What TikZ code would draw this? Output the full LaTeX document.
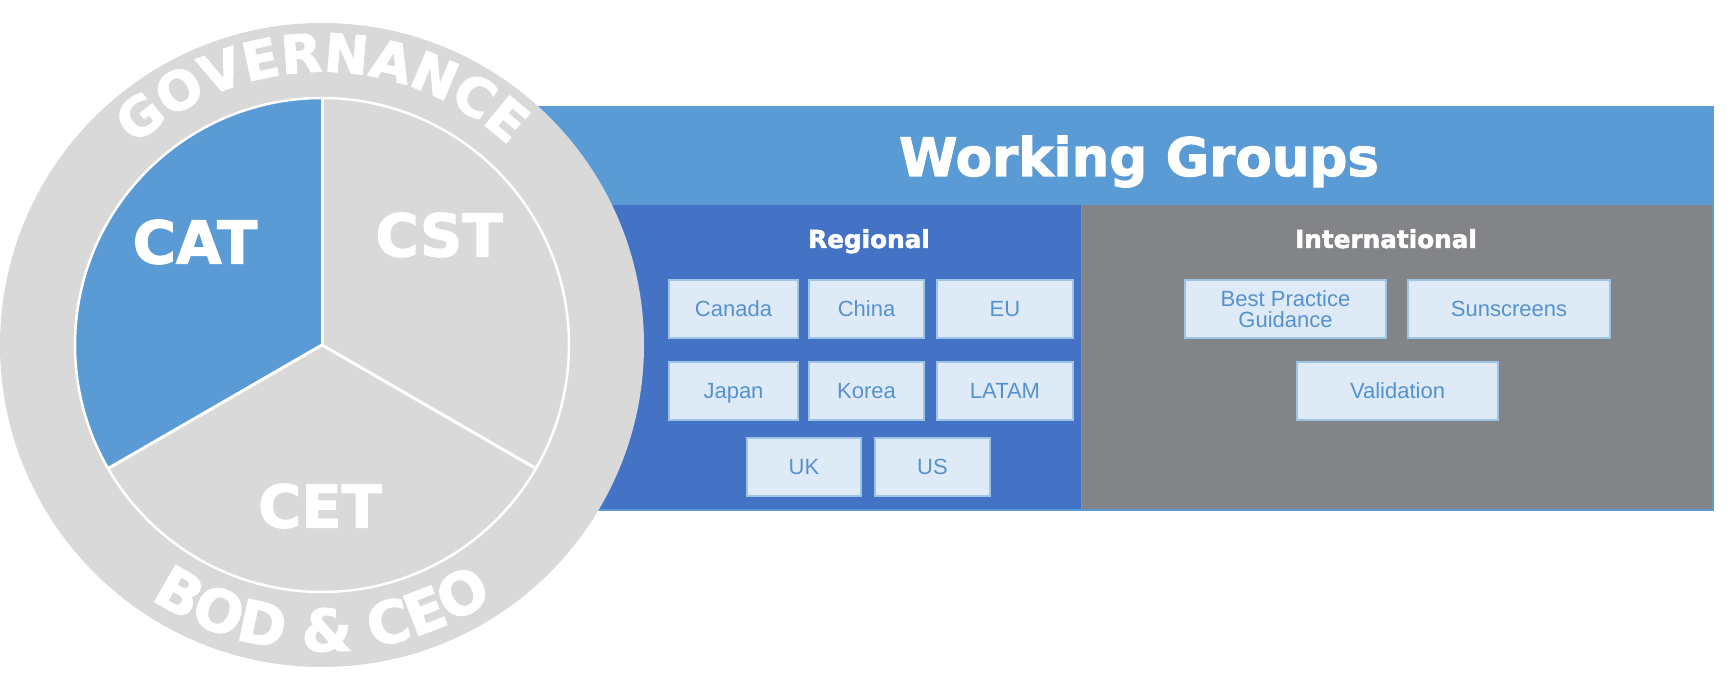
\documentclass[tikz,border=0pt]{standalone}
\usepackage{fontspec}
\setmainfont{Liberation Sans}
\newfontfamily\heavy{DejaVu Sans}[BoldFeatures={FakeBold=2}]
\usetikzlibrary{decorations.text}
\definecolor{ring}{HTML}{D9D9D9}
\definecolor{hdr}{HTML}{5B9BD5}
\definecolor{reg}{HTML}{4472C4}
\definecolor{intl}{HTML}{838487}
\definecolor{boxfill}{HTML}{DEEBF7}
\definecolor{boxline}{HTML}{9DC3E6}
\definecolor{boxtext}{HTML}{5691CF}
\begin{document}
\begin{tikzpicture}[x=1pt,y=1pt,
  wgbase/.style={draw=boxline, line width=1.2pt, fill=boxfill, text=boxtext,
    font=\fontsize{22}{21}\selectfont, align=center, inner sep=0pt,
    minimum height=58pt},
  wgbox/.style={wgbase, text height=15.8pt, text depth=0pt},
  titletext/.style={text=white, inner sep=0pt, anchor=base},
  pietext/.style={text=white, inner sep=0pt, font=\heavy\bfseries\fontsize{59}{59}\selectfont},
  ringtext/.style={decorate, decoration={text along path, text align=center, text color=white}}
]
\useasboundingbox (0,0) rectangle (1731,685);

% header and panels
\fill[hdr] (400,481) rectangle (1714,579);
\filldraw[fill=reg, draw=hdr, line width=1.5pt] (400,175) rectangle (1081.5,481);
\filldraw[fill=intl, draw=hdr, line width=1.5pt] (1081.5,175) rectangle (1713,481);

\node[titletext, font=\heavy\bfseries\fontsize{53}{53}\selectfont] (wgtitle) at (1139,509) {Working Groups};
\node[titletext, font=\heavy\bfseries\fontsize{24.7}{25}\selectfont] (regtitle) at (869,437) {Regional};
\node[titletext, font=\heavy\bfseries\fontsize{24.7}{25}\selectfont] (inttitle) at (1386,437) {International};

% regional boxes
\node[wgbox, minimum width=129pt] (canada) at (733.5,376) {Canada};
\node[wgbox, minimum width=115pt] (china) at (866.5,376) {China};
\node[wgbox, minimum width=136pt] (eu) at (1005,376) {EU};
\node[wgbox, minimum width=129pt] (japan) at (733.5,294) {Japan};
\node[wgbox, minimum width=115pt] (korea) at (866.5,294) {Korea};
\node[wgbox, minimum width=136pt] (latam) at (1005,294) {LATAM};
\node[wgbox, minimum width=114pt] (uk) at (804,218) {UK};
\node[wgbox, minimum width=115pt] (us) at (932.5,218) {US};

% international boxes
\node[wgbase, minimum width=201pt] (bpg) at (1285.5,376) {Best Practice\\Guidance};
\node[wgbox, minimum width=202pt] (sun) at (1509,376) {Sunscreens};
\node[wgbox, minimum width=201pt] (val) at (1397.5,294) {Validation};

% circle
\coordinate (C) at (322,340);
\fill[ring] (C) circle[radius=322];
\fill[hdr] (C) -- ++(90:247) arc[start angle=90, end angle=210, radius=247] -- cycle;
\draw[white, line width=2.5pt] (C) circle[radius=247];
\draw[white, line width=3pt] (C) -- ++(90:247);
\draw[white, line width=3pt] (C) -- ++(210:247);
\draw[white, line width=3pt] (C) -- ++(330:247);

\node[pietext] (cat) at (195,443) {CAT};
\node[pietext] (cst) at (439,450) {CST};
\node[pietext] (cet) at (320,179) {CET};

\path[ringtext, decoration={text={|\heavy\bfseries\fontsize{53}{53}\selectfont|GOVERNANCE}}]
  (C) ++(150:273) arc[start angle=150, end angle=30, radius=273];
\path[ringtext, decoration={text={|\heavy\bfseries\fontsize{58}{58}\selectfont|BOD {\&} CEO}}]
  (C) ++(210:306) arc[start angle=210, end angle=330, radius=306];
\end{tikzpicture}
\end{document}
